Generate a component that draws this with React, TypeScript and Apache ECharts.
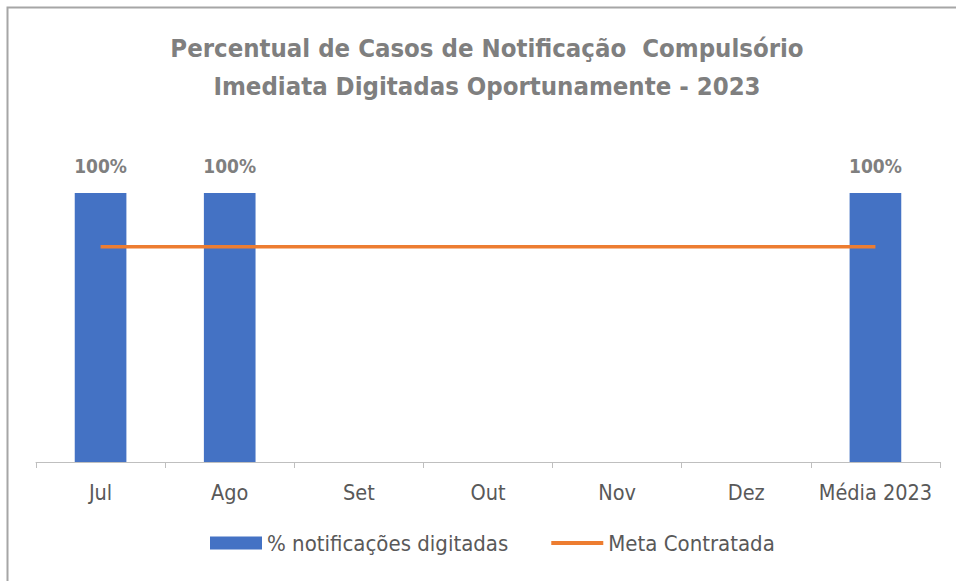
import React, { useEffect, useRef } from "react";
import * as echarts from "echarts";

const categories = ["Jul", "Ago", "Set", "Out", "Nov", "Dez", "Média 2023"];
const percentDigitadas: (number | null)[] = [1, 1, null, null, null, null, 1];
const metaContratada: number[] = [0.8, 0.8, 0.8, 0.8, 0.8, 0.8, 0.8];
const titleLines = ["Percentual de Casos de Notificação  Compulsório", "Imediata Digitadas Oportunamente - 2023"];

const FONT = "'DejaVu Sans Condensed', 'Open Sans', sans-serif";

export default function App() {
  const ref = useRef<HTMLDivElement>(null);
  useEffect(() => {
    if (!ref.current) return;
    const chart = echarts.init(ref.current, undefined, { renderer: "svg" });
    chart.setOption({
      animation: false,
      backgroundColor: "#ffffff",
      graphic: [
        {
          type: "rect",
          shape: { x: 7.5, y: 7.5, width: 1000, height: 1000 },
          style: { fill: "none", stroke: "#a6a6a6", lineWidth: 2 },
          silent: true,
        },
        ...titleLines.map((t, i) => ({
          type: "text",
          x: 487,
          y: 48 + i * 38,
          silent: true,
          style: {
            text: t,
            textAlign: "center",
            textVerticalAlign: "middle",
            fontFamily: FONT,
            fontSize: 25.5,
            fontWeight: "bold",
            fill: "#7f7f7f",
          },
        })),
      ],
      legend: {
        bottom: 22,
        left: 205,
        itemGap: 43,
        itemWidth: 52,
        itemHeight: 13,
        symbolKeepAspect: true,
        textStyle: { fontFamily: FONT, fontSize: 22, color: "#595959" },
        data: [
          { name: "% notificações digitadas", icon: "rect" },
          { name: "Meta Contratada", icon: "path://M0,0 H52 V4 H0 Z" },
        ],
      },
      grid: { left: 36, right: 16, top: 193, bottom: 119, containLabel: false },
      xAxis: {
        type: "category",
        data: categories,
        boundaryGap: true,
        axisLine: { lineStyle: { color: "#bfbfbf", width: 1 } },
        axisTick: { show: true, alignWithLabel: false, length: 6, lineStyle: { color: "#bfbfbf" } },
        axisLabel: {
          fontFamily: FONT,
          fontSize: 21.5,
          color: "#595959",
          margin: 19,
          interval: 0,
        },
      },
      yAxis: {
        type: "value",
        min: 0,
        max: 1,
        show: false,
        splitLine: { show: false },
      },
      series: [
        {
          name: "% notificações digitadas",
          type: "bar",
          data: percentDigitadas,
          barWidth: "40%",
          itemStyle: { color: "#4472c4" },
          label: {
            show: true,
            position: "top",
            distance: 18,
            formatter: (p: any) => `${Math.round(p.value * 100)}%`,
            fontFamily: FONT,
            fontSize: 19,
            fontWeight: "bold",
            color: "#7f7f7f",
          },
        },
        {
          name: "Meta Contratada",
          type: "line",
          data: metaContratada,
          symbol: "none",
          lineStyle: { color: "#ed7d31", width: 3.5 },
          itemStyle: { color: "#ed7d31" },
        },
      ],
    });
    return () => chart.dispose();
  }, []);
  return (
    <div
      ref={ref}
      style={{ position: "absolute", left: 0, top: 0, width: 956, height: 581 }}
    />
  );
}
